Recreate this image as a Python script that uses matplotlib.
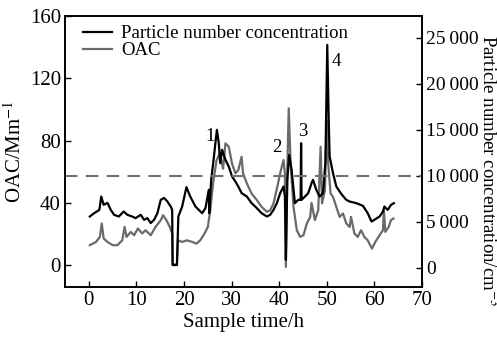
import matplotlib
matplotlib.use("Agg")
import matplotlib.pyplot as plt
from matplotlib.ticker import FuncFormatter

plt.rcParams['font.family'] = ['Liberation Serif', 'DejaVu Serif']
plt.rcParams['mathtext.fontset'] = 'stix'

# particle number concentration (right axis, cm^-3)
pn_t = [0.2, 1.1, 2.2, 2.6, 3.1, 3.9, 4.6, 5.3, 6.3, 7.3, 8.1, 9.1, 9.8, 10.9, 11.6,
        12.3, 13.0, 13.7, 14.4, 15.1, 15.8, 16.5, 17.2, 17.5, 17.6, 18.5, 18.8, 19.6,
        20.5, 21.3, 22.4, 23.1, 23.8, 24.5, 25.2, 25.3, 25.7, 26.2, 26.9, 27.3, 27.6,
        28.0, 28.7, 29.4, 30.1, 30.8, 31.4, 32.1, 33.2, 34.2, 35.3, 36.3, 37.4, 38.1,
        38.8, 39.5, 40.2, 40.9, 41.2, 41.4, 41.7, 42.1, 42.6, 43.3, 44.0, 44.5, 44.6,
        44.7, 45.4, 46.1, 46.8, 47.1, 47.8, 48.5, 49.2, 49.7, 50.1, 50.4, 50.6, 51.3,
        52.0, 53.1, 54.1, 54.8, 56.2, 57.6, 58.6, 59.4, 60.0, 61.1, 61.8, 62.1, 62.8,
        63.5, 64.1]
pn = [5580, 5940, 6300, 7750, 6850, 7060, 6300, 5760, 5580, 6120, 5760, 5580, 5400,
      5760, 5220, 5400, 4860, 5220, 5940, 7390, 7600, 7210, 6660, 6300, 300, 300, 5580,
      6660, 8770, 7750, 6660, 6300, 5940, 6490, 8480, 5940, 9570, 11740, 15000, 13550,
      11380, 12830, 11740, 11010, 9920, 9380, 8840, 8120, 7750, 7030, 6490, 5940, 5580,
      5760, 6300, 7030, 8120, 8840, 7750, 870, 9570, 12280, 10650, 7030, 7390, 7390,
      13550, 7390, 7750, 8120, 9200, 9570, 8480, 7750, 8120, 11380, 24240, 16090, 12100,
      10300, 8840, 8000, 7390, 7210, 7030, 6740, 5940, 5030, 5220, 5580, 6120, 6660,
      6300, 6850, 7030]

# OAC (left axis, Mm^-1)
oac_t = [0.2, 1.5, 2.3, 2.7, 3.1, 3.9, 5.0, 6.0, 7.0, 7.5, 7.9, 8.8, 9.5, 10.3, 11.2,
         11.9, 13.0, 14.0, 15.1, 15.6, 16.3, 17.0, 17.5, 17.6, 18.5, 18.7, 19.6, 20.6,
         21.7, 22.6, 23.4, 24.3, 25.0, 25.5, 26.1, 26.8, 27.5, 28.2, 28.7, 29.4, 30.1,
         30.8, 31.4, 32.1, 32.4, 33.2, 34.2, 35.3, 36.3, 37.4, 38.1, 38.8, 39.6, 40.2,
         40.9, 41.2, 41.4, 41.7, 42.0, 42.4, 43.0, 43.7, 44.4, 45.1, 45.8, 46.5, 46.8,
         47.5, 48.2, 48.7, 49.0, 49.6, 50.0, 50.3, 50.8, 51.3, 52.0, 52.7, 53.4, 54.1,
         54.8, 55.1, 55.8, 56.5, 57.2, 57.9, 58.6, 59.5, 60.2, 61.1, 61.8, 62.0, 62.3,
         63.0, 63.5, 64.0]
oac = [12.9, 15.0, 18.2, 26.8, 17.2, 15.0, 12.9, 12.9, 16.0, 24.6, 18.2, 21.4, 19.3,
       23.6, 20.4, 22.5, 19.3, 24.6, 28.9, 32.1, 28.9, 24.6, 20.4, 0.5, 0.5, 16.0, 15.0,
       16.0, 15.0, 13.9, 16.0, 20.4, 24.6, 35.3, 52.5, 67.0, 72.0, 62.0, 78.2, 76.0,
       65.0, 59.0, 61.0, 69.6, 59.0, 52.5, 46.0, 41.8, 37.5, 34.3, 35.3, 39.7, 50.3,
       59.0, 67.5, 59.0, -1.0, 61.0, 100.7, 65.0, 37.5, 22.5, 18.2, 19.3, 26.8, 31.0,
       40.0, 29.0, 35.3, 76.0, 39.7, 48.0, 93.0, 65.0, 46.0, 43.9, 37.5, 31.0, 33.2,
       26.8, 24.6, 31.0, 20.4, 18.2, 22.5, 18.2, 16.0, 10.7, 15.0, 19.3, 22.5, 35.3,
       21.4, 24.6, 29.0, 30.0]

peak_labels = ['1', '2', '3', '4']
peak_t = [25.5, 39.5, 45.0, 52.1]
peak_pn = [14240, 13040, 14780, 22390]

fs = 15

fig = plt.figure(figsize=(4.97, 3.37), dpi=100)
ax = fig.add_axes([0.131, 0.148, 0.718, 0.805])
ax2 = ax.twinx()

g, = ax.plot(oac_t, oac, color='#6a6a6a', lw=1.6)
b, = ax2.plot(pn_t, pn, color='black', lw=1.6)
ax2.axhline(10000, color='#707070', lw=1.5, ls=(0, (6, 4)))

for s, x, y in zip(peak_labels, peak_t, peak_pn):
    ax2.text(x, y, s, fontsize=13.5, ha='center', va='center')

ax.set_xlim(-5, 70)
ax.set_ylim(-14, 160)
ax2.set_ylim(-2100, 27400)
ax.set_xticks([0, 10, 20, 30, 40, 50, 60, 70])
ax.set_yticks([0, 40, 80, 120, 160])
ax2.set_yticks([0, 5000, 10000, 15000, 20000, 25000])
ax2.yaxis.set_major_formatter(FuncFormatter(
    lambda v, p: f"{int(v):,}".replace(',', '\u2009')))

for a in (ax, ax2):
    a.tick_params(direction='in', length=4, width=1, labelsize=fs, pad=3)
    for sp in a.spines.values():
        sp.set_linewidth(1.2)
ax2.tick_params(labelsize=14)

ax.set_xlabel('Sample time/h', fontsize=fs, labelpad=2)
ax.set_ylabel('OAC/Mm$^{-1}$', fontsize=fs, labelpad=3)
ax2.set_ylabel('Particle number concentration/cm$^{-3}$', fontsize=13.5,
               rotation=270, ha='center', va='center')
ax2.yaxis.set_label_coords(1.185, 0.43)

ax.legend([b, g], ['Particle number concentration', 'OAC'], loc='upper left',
          bbox_to_anchor=(0.025, 1.0), frameon=False, fontsize=13.5,
          handlelength=1.5, borderaxespad=0.1, labelspacing=0.0,
          handletextpad=0.5)

fig.savefig('out.png', dpi=100)
